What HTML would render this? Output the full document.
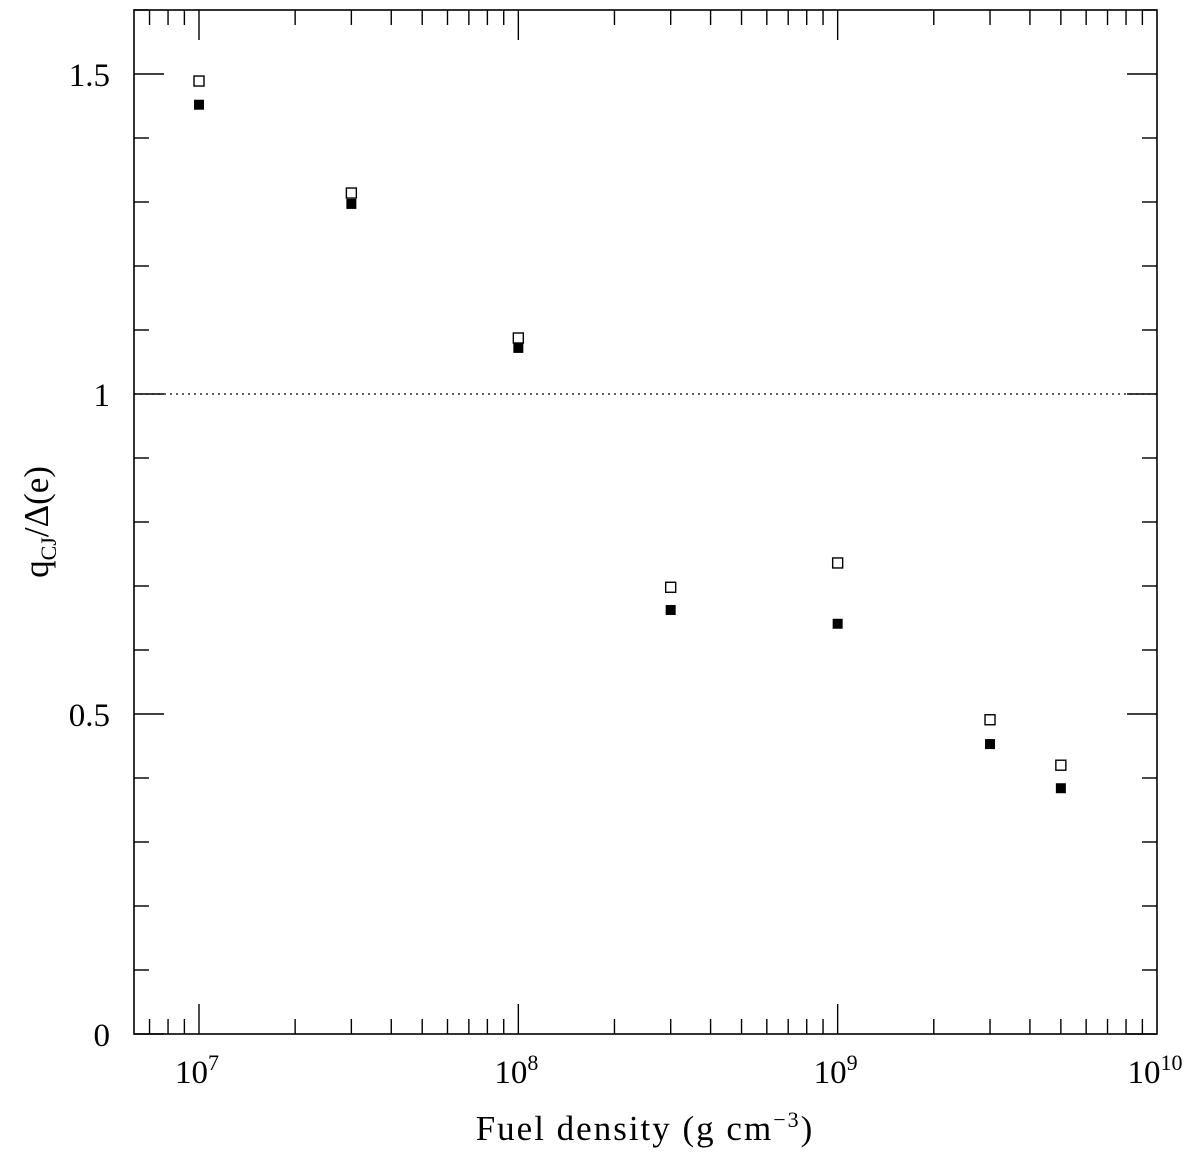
<!DOCTYPE html>
<html><head><meta charset="utf-8"><style>
body{margin:0;background:#fff}
text{font-family:"Liberation Serif",serif;fill:#000}
</style></head><body>
<svg id="chart" width="1200" height="1148" xmlns="http://www.w3.org/2000/svg">
<g id="g"></g>
</svg>
<script>
const categories=[1e7,3e7,1e8,3e8,1e9,3e9,5e9];
const openValues=[1.489,1.314,1.0875,0.698,0.736,0.491,0.42];
const filledValues=[1.452,1.297,1.072,0.6625,0.641,0.453,0.384];
const yTickLabels=["0","0.5","1","1.5"];
const xDecades=[7,8,9,10];
const L=134,R=1157,T=10,B=1034;
const xs=v=>199+(Math.log10(v)-7)*319.33;
const ys=v=>B-v*640;
const NS="http://www.w3.org/2000/svg";
const g=document.getElementById('g');
function mk(t,a,txt){const e=document.createElementNS(NS,t);for(const k in a)e.setAttribute(k,a[k]);if(txt!==undefined)e.textContent=txt;g.appendChild(e);return e;}
const fr=mk('rect',{x:L,y:T,width:R-L,height:B-T,fill:'none',stroke:'#000','stroke-width':1.6});


// y ticks
for(let i=0;i<=16;i++){const v=i/10,y=ys(v),len=(i%5==0)?30:15;
const a=mk('line',{x1:L,x2:L+len,y1:y,y2:y,stroke:'#000','stroke-width':1.4});


const b=mk('line',{x1:R,x2:R-len,y1:y,y2:y,stroke:'#000','stroke-width':1.4});

}
yTickLabels.forEach(s=>{const t=mk('text',{x:110,y:ys(parseFloat(s))+12,'text-anchor':'end','font-size':33},s);

});
// x ticks
for(let d=6;d<=9;d++)for(let m=1;m<=9;m++){const v=m*Math.pow(10,d),x=xs(v);if(x<L-0.5||x>R+0.5)continue;const len=m==1?30:15;
const a=mk('line',{x1:x,x2:x,y1:B,y2:B-len,stroke:'#000','stroke-width':1.4});


const b=mk('line',{x1:x,x2:x,y1:T,y2:T+len,stroke:'#000','stroke-width':1.4});

}
xDecades.forEach(d=>{const t=mk('text',{x:xs(Math.pow(10,d))-2,y:1083,'text-anchor':'middle','font-size':33},'10');
const s=document.createElementNS(NS,'tspan');s.setAttribute('dy',-13);s.setAttribute('font-size',22);s.textContent=d;t.appendChild(s);

});
const ref=mk('line',{x1:L,x2:R,y1:ys(1),y2:ys(1),stroke:'#000','stroke-width':1.3,'stroke-dasharray':'2 4'});


categories.forEach((c,i)=>{
const o=mk('rect',{x:xs(c)-5,y:ys(openValues[i])-5,width:10,height:10,fill:'none',stroke:'#000','stroke-width':1.4});


const f=mk('rect',{x:xs(c)-5,y:ys(filledValues[i])-5,width:10,height:10,fill:'#000'});

});
const xt=mk('text',{x:645,y:1140,'text-anchor':'middle','font-size':35,'letter-spacing':'2'},'Fuel density (g cm');
const sp=document.createElementNS(NS,'tspan');sp.setAttribute('dy',-13);sp.setAttribute('font-size',22);sp.textContent='−3';xt.appendChild(sp);
const sp2=document.createElementNS(NS,'tspan');sp2.setAttribute('dy',13);sp2.textContent=')';xt.appendChild(sp2);


const yt=mk('text',{transform:'translate(48,522) rotate(-90)','text-anchor':'middle','font-size':35},'q');
const s1=document.createElementNS(NS,'tspan');s1.setAttribute('dy',8);s1.setAttribute('font-size',22);s1.textContent='CJ';yt.appendChild(s1);
const s2=document.createElementNS(NS,'tspan');s2.setAttribute('dy',-8);s2.textContent='/Δ(e)';yt.appendChild(s2);


</script>
</body></html>
